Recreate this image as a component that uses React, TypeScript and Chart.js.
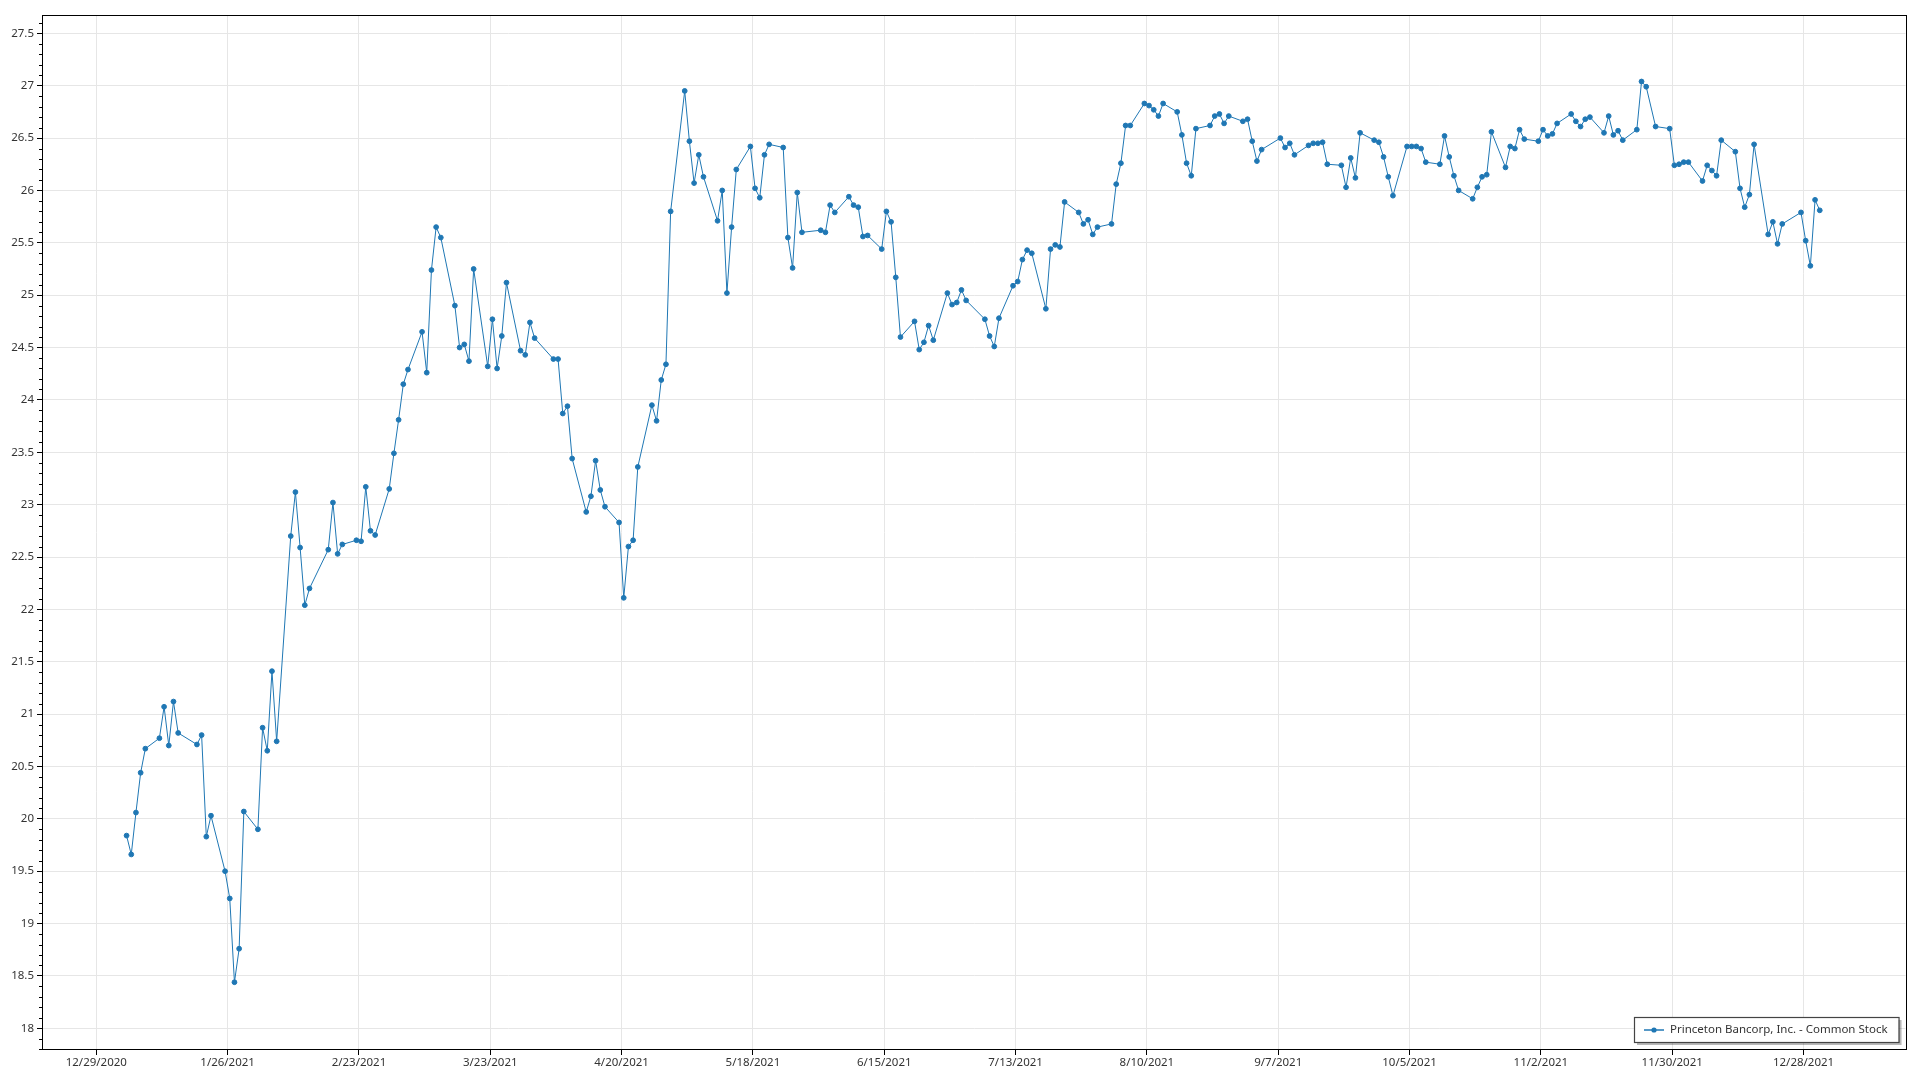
import { useEffect, useRef } from "react";
import { Chart, registerables } from "chart.js";

Chart.register(...registerables);

const seriesName = "Princeton Bancorp, Inc. - Common Stock";

// Trading dates of 2021 (MM-DD)
const tradingDates = [
  "01-04","01-05","01-06","01-07","01-08","01-11","01-12","01-13","01-14","01-15","01-19","01-20","01-21","01-22","01-25","01-26","01-27","01-28","01-29",
  "02-01","02-02","02-03","02-04","02-05","02-08","02-09","02-10","02-11","02-12","02-16","02-17","02-18","02-19","02-22","02-23","02-24","02-25","02-26",
  "03-01","03-02","03-03","03-04","03-05","03-08","03-09","03-10","03-11","03-12","03-15","03-16","03-17","03-18","03-19","03-22","03-23","03-24","03-25","03-26","03-29","03-30","03-31",
  "04-01","04-05","04-06","04-07","04-08","04-09","04-12","04-13","04-14","04-15","04-16","04-19","04-20","04-21","04-22","04-23","04-26","04-27","04-28","04-29","04-30",
  "05-03","05-04","05-05","05-06","05-07","05-10","05-11","05-12","05-13","05-14","05-17","05-18","05-19","05-20","05-21","05-24","05-25","05-26","05-27","05-28",
  "06-01","06-02","06-03","06-04","06-07","06-08","06-09","06-10","06-11","06-14","06-15","06-16","06-17","06-18","06-21","06-22","06-23","06-24","06-25","06-28","06-29","06-30",
  "07-01","07-02","07-06","07-07","07-08","07-09","07-12","07-13","07-14","07-15","07-16","07-19","07-20","07-21","07-22","07-23","07-26","07-27","07-28","07-29","07-30",
  "08-02","08-03","08-04","08-05","08-06","08-09","08-10","08-11","08-12","08-13","08-16","08-17","08-18","08-19","08-20","08-23","08-24","08-25","08-26","08-27","08-30","08-31",
  "09-01","09-02","09-03","09-07","09-08","09-09","09-10","09-13","09-14","09-15","09-16","09-17","09-20","09-21","09-22","09-23","09-24","09-27","09-28","09-29","09-30",
  "10-01","10-04","10-05","10-06","10-07","10-08","10-11","10-12","10-13","10-14","10-15","10-18","10-19","10-20","10-21","10-22","10-25","10-26","10-27","10-28","10-29",
  "11-01","11-02","11-03","11-04","11-05","11-08","11-09","11-10","11-11","11-12","11-15","11-16","11-17","11-18","11-19","11-22","11-23","11-24","11-26","11-29","11-30",
  "12-01","12-02","12-03","12-06","12-07","12-08","12-09","12-10","12-13","12-14","12-15","12-16","12-17","12-20","12-21","12-22","12-23","12-27","12-28","12-29","12-30","12-31",
];

const closePrices = [
  19.84,19.66,20.06,20.44,20.67,20.77,21.07,20.70,21.12,20.82,20.71,20.80,19.83,20.03,19.50,19.24,18.44,18.76,20.07,
  19.90,20.87,20.65,21.41,20.74,22.70,23.12,22.59,22.04,22.20,22.57,23.02,22.53,22.62,22.66,22.65,23.17,22.75,22.71,
  23.15,23.49,23.81,24.15,24.29,24.65,24.26,25.24,25.65,25.55,24.90,24.50,24.53,24.37,25.25,24.32,24.77,24.30,24.61,25.12,24.47,24.43,24.74,
  24.59,24.39,24.39,23.87,23.94,23.44,22.93,23.08,23.42,23.14,22.98,22.83,22.11,22.60,22.66,23.36,23.95,23.80,24.19,24.34,25.80,
  26.95,26.47,26.07,26.34,26.13,25.71,26.00,25.02,25.65,26.20,26.42,26.02,25.93,26.34,26.44,26.41,25.55,25.26,25.98,25.60,
  25.62,25.60,25.86,25.79,25.94,25.86,25.84,25.56,25.57,25.44,25.80,25.70,25.17,24.60,24.75,24.48,24.55,24.71,24.57,25.02,24.91,24.93,
  25.05,24.95,24.77,24.61,24.51,24.78,25.09,25.13,25.34,25.43,25.40,24.87,25.44,25.48,25.46,25.89,25.79,25.68,25.72,25.58,25.65,
  25.68,26.06,26.26,26.62,26.62,26.83,26.81,26.77,26.71,26.83,26.75,26.53,26.26,26.14,26.59,26.62,26.71,26.73,26.64,26.71,26.66,26.68,
  26.47,26.28,26.39,26.50,26.41,26.45,26.34,26.43,26.45,26.45,26.46,26.25,26.24,26.03,26.31,26.12,26.55,26.48,26.46,26.32,26.13,
  25.95,26.42,26.42,26.42,26.40,26.27,26.25,26.52,26.32,26.14,26.00,25.92,26.03,26.13,26.15,26.56,26.22,26.42,26.40,26.58,26.49,
  26.47,26.58,26.52,26.54,26.64,26.73,26.66,26.61,26.68,26.70,26.55,26.71,26.53,26.57,26.48,26.58,27.04,26.99,26.61,26.59,26.24,
  26.25,26.27,26.27,26.09,26.24,26.19,26.14,26.48,26.37,26.02,25.84,25.96,26.44,25.58,25.70,25.49,25.68,25.79,25.52,25.28,25.91,25.81,
];

const xTickLabels = [
  "12/29/2020","1/26/2021","2/23/2021","3/23/2021","4/20/2021","5/18/2021","6/15/2021",
  "7/13/2021","8/10/2021","9/7/2021","10/5/2021","11/2/2021","11/30/2021","12/28/2021",
];

const yTickValues = [18,18.5,19,19.5,20,20.5,21,21.5,22,22.5,23,23.5,24,24.5,25,25.5,26,26.5,27,27.5];

const LINE_COLOR = "#1f77b4";
const GRID_COLOR = "#e6e6e6";
const TEXT_COLOR = "#333333";
const FONT_FAMILY = '"Noto Sans", "Open Sans", sans-serif';

const BASE_DAY = Date.UTC(2020, 11, 29) / 86400000;
const dayOfUTC = (y: number, m: number, d: number) => Date.UTC(y, m - 1, d) / 86400000 - BASE_DAY;
const dayOfTrading = (s: string) => {
  const [m, d] = s.split("-").map(Number);
  return dayOfUTC(2021, m, d) + 11 / 24;
};
const dayOfLabel = (s: string) => {
  const [m, d, y] = s.split("/").map(Number);
  return dayOfUTC(y, m, d);
};

const X_MIN = -11.36;
const X_MAX = 385.74;
const Y_MIN = 17.793;
const Y_MAX = 27.675;

const framePlugin = {
  id: "frameAndLegend",
  afterDraw(chart: any) {
    const { ctx, chartArea } = chart;
    const { left, right, top, bottom } = chartArea;
    const yScale = chart.scales.y;
    ctx.save();
    // minor ticks on y axis
    ctx.strokeStyle = "#000";
    ctx.lineWidth = 1;
    ctx.beginPath();
    for (let k = Math.ceil(Y_MIN * 10); k <= Math.floor(Y_MAX * 10); k++) {
      if (k % 5 === 0) continue;
      const py = Math.round(yScale.getPixelForValue(k / 10)) + 0.5;
      ctx.moveTo(left - 4, py);
      ctx.lineTo(left, py);
    }
    ctx.stroke();
    // frame
    ctx.strokeStyle = "#000";
    ctx.lineWidth = 1;
    ctx.strokeRect(Math.round(left) - 0.5, Math.round(top) + 0.5, Math.round(right - left) + 1, Math.round(bottom - top) - 1);

    // legend
    ctx.font = `11.5px ${FONT_FAMILY}`;
    const tw = ctx.measureText(seriesName).width;
    const bw = 10 + 20 + 6 + tw + 11;
    const bh = 25;
    const bx = Math.round(right - 7 - bw);
    const by = Math.round(bottom - 8 - bh);
    ctx.fillStyle = "rgba(0,0,0,0.28)";
    ctx.fillRect(bx + 3, by + 3, bw, bh);
    ctx.fillStyle = "#fff";
    ctx.fillRect(bx, by, bw, bh);
    ctx.strokeStyle = "#444";
    ctx.lineWidth = 1.2;
    ctx.strokeRect(bx + 0.5, by + 0.5, bw, bh);
    const cy = by + bh / 2 + 0.5;
    ctx.strokeStyle = LINE_COLOR;
    ctx.lineWidth = 1.5;
    ctx.beginPath();
    ctx.moveTo(bx + 10, cy);
    ctx.lineTo(bx + 30, cy);
    ctx.stroke();
    ctx.fillStyle = LINE_COLOR;
    ctx.beginPath();
    ctx.arc(bx + 20, cy, 2.6, 0, Math.PI * 2);
    ctx.fill();
    ctx.fillStyle = TEXT_COLOR;
    ctx.textBaseline = "middle";
    ctx.textAlign = "left";
    ctx.fillText(seriesName, bx + 36, cy);
    ctx.restore();
  },
};

export default function App() {
  const canvasRef = useRef<HTMLCanvasElement | null>(null);

  useEffect(() => {
    const canvas = canvasRef.current;
    if (!canvas) return;
    const points = tradingDates.map((d, i) => ({ x: dayOfTrading(d), y: closePrices[i] }));
    const xTickDays = xTickLabels.map(dayOfLabel);
    const font = { family: FONT_FAMILY, size: 11.5 };

    const chart = new Chart(canvas, {
      type: "line",
      data: {
        datasets: [
          {
            label: seriesName,
            data: points,
            borderColor: LINE_COLOR,
            backgroundColor: LINE_COLOR,
            borderWidth: 1,
            pointRadius: 2.4,
            pointBorderWidth: 1,
            pointBackgroundColor: LINE_COLOR,
            pointBorderColor: LINE_COLOR,
            tension: 0,
            fill: false,
          },
        ],
      },
      options: {
        animation: false,
        responsive: false,
        devicePixelRatio: 1,
        layout: { padding: { top: 15, right: 14.5, left: 0, bottom: 0 } },
        plugins: {
          legend: { display: false },
          tooltip: { enabled: false },
        },
        scales: {
          x: {
            type: "linear",
            min: X_MIN,
            max: X_MAX,
            afterBuildTicks: (s: any) => {
              s.ticks = xTickDays.map((v) => ({ value: v }));
            },
            afterFit: (s: any) => {
              s.height = 30;
            },
            ticks: {
              autoSkip: false,
              maxRotation: 0,
              padding: 1,
              color: TEXT_COLOR,
              font,
              callback: (_v: any, i: number) => xTickLabels[i],
            },
            grid: { color: GRID_COLOR, tickColor: "#000", tickLength: 5, drawTicks: true },
            border: { display: false },
          },
          y: {
            type: "linear",
            min: Y_MIN,
            max: Y_MAX,
            afterBuildTicks: (s: any) => {
              s.ticks = yTickValues.map((v) => ({ value: v }));
            },
            afterFit: (s: any) => {
              s.width = 43;
            },
            ticks: {
              padding: 3,
              color: TEXT_COLOR,
              font,
              callback: (v: any) => String(v),
            },
            grid: { color: GRID_COLOR, tickColor: "#000", tickLength: 6, drawTicks: true },
            border: { display: false },
          },
        },
      },
      plugins: [framePlugin],
    });
    return () => chart.destroy();
  }, []);

  return (
    <div style={{ position: "absolute", left: 0, top: 0, width: 1920, height: 1080, background: "#fff" }}>
      <canvas ref={canvasRef} width={1920} height={1080} style={{ display: "block" }} />
    </div>
  );
}
